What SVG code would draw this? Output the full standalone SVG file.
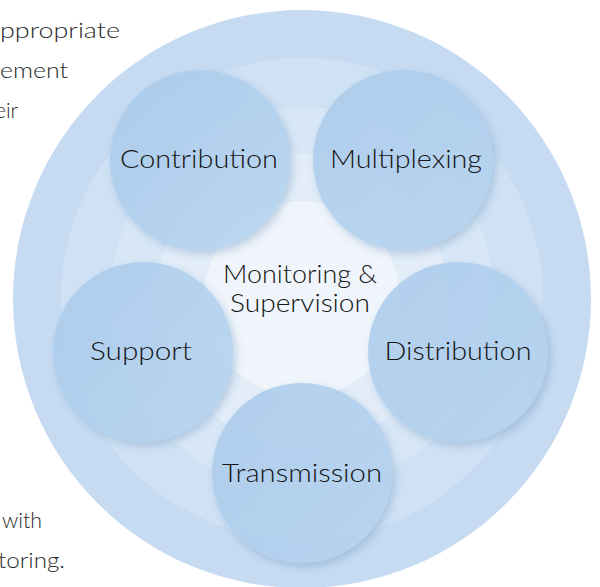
<svg xmlns="http://www.w3.org/2000/svg" width="600" height="587" viewBox="0 0 600 587">
<style>
.side{font-family:"Lato","Liberation Sans",sans-serif;font-weight:300;font-size:22px;fill:#2a2a2a}
.lbl{font-family:"Lato","Liberation Sans",sans-serif;font-weight:300;font-size:25px;fill:#151515;text-anchor:middle}
.node{fill:url(#ng);opacity:0.88}
</style>
<defs>
<linearGradient id="ng" x1="0" y1="0" x2="1" y2="1">
<stop offset="0" stop-color="#aacbeb"/>
<stop offset="1" stop-color="#b5d3f0"/>
</linearGradient>
<filter id="sh" x="-20%" y="-20%" width="150%" height="150%">
<feDropShadow dx="3" dy="4" stdDeviation="4" flood-color="#6f95c0" flood-opacity="0.45"/>
</filter>
</defs>
<g id="side-text">
<text class="side" x="0" y="38" textLength="120" lengthAdjust="spacingAndGlyphs">ppropriate</text>
<text class="side" x="0" y="78" textLength="68" lengthAdjust="spacingAndGlyphs">ement</text>
<text class="side" x="-5" y="118" textLength="23" lengthAdjust="spacingAndGlyphs">eir</text>
<text class="side" x="2" y="528" textLength="40" lengthAdjust="spacingAndGlyphs">with</text>
<text class="side" x="-2" y="568" textLength="67" lengthAdjust="spacingAndGlyphs">toring.</text>
</g>
<g id="rings">
<circle cx="302" cy="299" r="289" fill="#c6dbf2"/>
<circle cx="302" cy="299" r="241" fill="#cfe1f4"/>
<circle cx="302" cy="299" r="192" fill="#d8e7f6"/>
<circle cx="302" cy="299" r="146" fill="#e2edf8"/>
<circle cx="302" cy="299" r="98" fill="#eff5fb"/>
</g>
<g id="center">
<text class="lbl" x="300" y="283" textLength="154" lengthAdjust="spacingAndGlyphs">Monitoring &amp;</text>
<text class="lbl" x="300" y="312" textLength="140" lengthAdjust="spacingAndGlyphs">Supervision</text>
</g>
<g id="connectors"></g>
<g id="contribution">
<circle class="node" cx="200" cy="160" r="90" filter="url(#sh)"/>
<text class="lbl" x="199" y="168" textLength="158" lengthAdjust="spacingAndGlyphs">Contribution</text>
</g>
<g id="multiplexing">
<circle class="node" cx="403" cy="160" r="90" filter="url(#sh)"/>
<text class="lbl" x="406" y="168" textLength="152" lengthAdjust="spacingAndGlyphs">Multiplexing</text>
</g>
<g id="support">
<circle class="node" cx="143" cy="352" r="90" filter="url(#sh)"/>
<text class="lbl" x="141" y="360" textLength="102" lengthAdjust="spacingAndGlyphs">Support</text>
</g>
<g id="distribution">
<circle class="node" cx="458" cy="352" r="90" filter="url(#sh)"/>
<text class="lbl" x="458" y="360" textLength="147" lengthAdjust="spacingAndGlyphs">Distribution</text>
</g>
<g id="transmission">
<circle class="node" cx="302" cy="473" r="90" filter="url(#sh)"/>
<text class="lbl" x="302" y="482" textLength="160" lengthAdjust="spacingAndGlyphs">Transmission</text>
</g>
</svg>
